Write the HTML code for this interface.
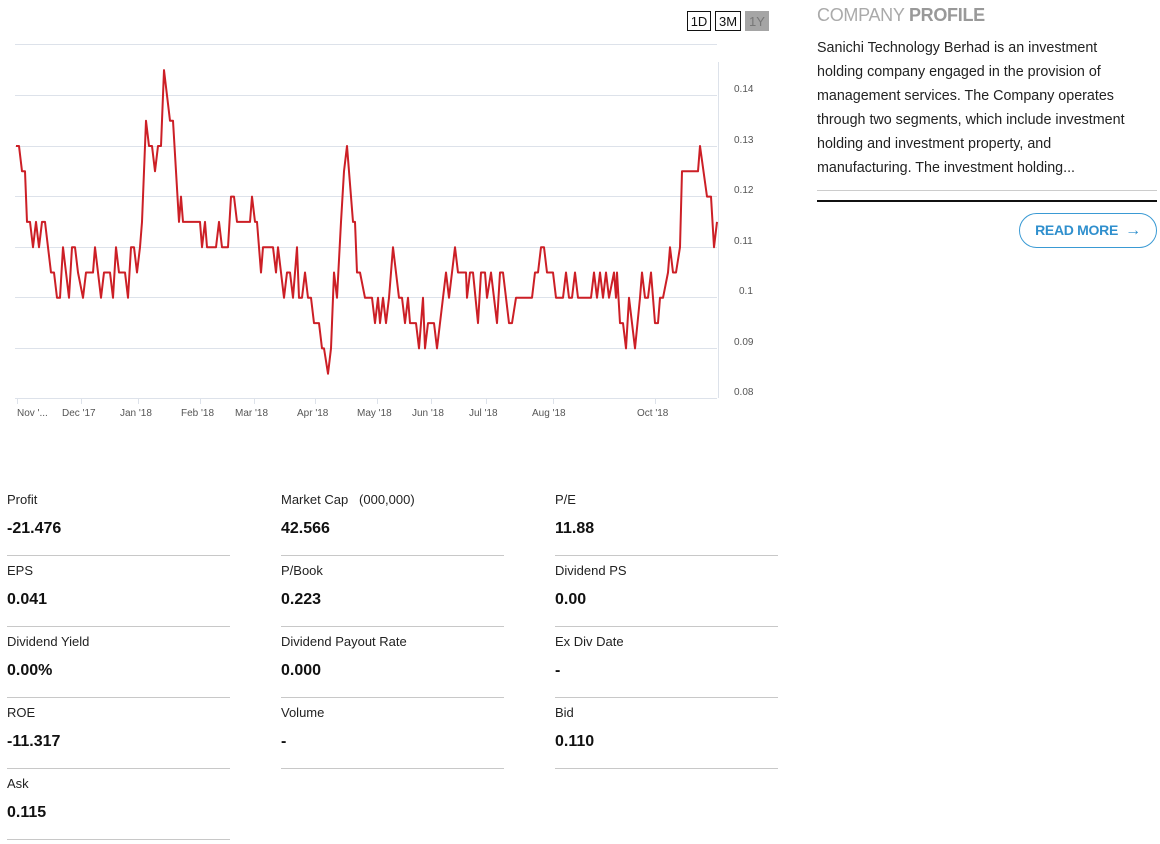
<!DOCTYPE html>
<html><head><meta charset="utf-8"><style>
body{margin:0;width:1160px;height:844px;background:#fff;font-family:"Liberation Sans",sans-serif;position:relative;overflow:hidden;color:#111}
.a{position:absolute;white-space:nowrap}
.btn{position:absolute;top:11px;height:20px;border:1px solid #111;font-size:13px;line-height:20px;text-align:center;box-sizing:border-box}
.lab{font-size:13px;color:#222}
.val{font-size:16px;font-weight:bold;color:#111}
.ln{position:absolute;height:1px;background:#c8c8c8;width:223px}
.yl{font-size:10px;fill:#555}
.xl{font-size:10px;fill:#555}
</style></head><body>
<div class="btn" style="left:687px;width:24px">1D</div>
<div class="btn" style="left:715px;width:26px">3M</div>
<div class="btn" style="left:745px;width:24px;background:#a5a5a5;border-color:#a5a5a5;color:#777">1Y</div>
<svg class="a" style="left:0;top:0" width="800" height="430">
<g stroke="#dde2ea" stroke-width="1">
<line x1="15" x2="717" y1="44.5" y2="44.5"/><line x1="15" x2="717" y1="95.5" y2="95.5"/><line x1="15" x2="717" y1="146.5" y2="146.5"/><line x1="15" x2="717" y1="196.5" y2="196.5"/><line x1="15" x2="717" y1="247.5" y2="247.5"/><line x1="15" x2="717" y1="297.5" y2="297.5"/><line x1="15" x2="717" y1="348.5" y2="348.5"/><line x1="15" x2="717" y1="398.5" y2="398.5"/>
<line x1="718.5" x2="718.5" y1="62" y2="398"/>
<line x1="17.5" x2="17.5" y1="398" y2="404"/><line x1="81.5" x2="81.5" y1="398" y2="404"/><line x1="138.5" x2="138.5" y1="398" y2="404"/><line x1="200.5" x2="200.5" y1="398" y2="404"/><line x1="254.5" x2="254.5" y1="398" y2="404"/><line x1="315.5" x2="315.5" y1="398" y2="404"/><line x1="377.5" x2="377.5" y1="398" y2="404"/><line x1="431.5" x2="431.5" y1="398" y2="404"/><line x1="486.5" x2="486.5" y1="398" y2="404"/><line x1="553.5" x2="553.5" y1="398" y2="404"/><line x1="655.5" x2="655.5" y1="398" y2="404"/>
</g>
<g class="yl"><text x="734" y="92">0.14</text><text x="734" y="143">0.13</text><text x="734" y="193">0.12</text><text x="734" y="244">0.11</text><text x="739" y="294">0.1</text><text x="734" y="345">0.09</text><text x="734" y="395">0.08</text></g>
<g class="xl"><text x="17" y="416">Nov '...</text><text x="62" y="416">Dec '17</text><text x="120" y="416">Jan '18</text><text x="181" y="416">Feb '18</text><text x="235" y="416">Mar '18</text><text x="297" y="416">Apr '18</text><text x="357" y="416">May '18</text><text x="412" y="416">Jun '18</text><text x="469" y="416">Jul '18</text><text x="532" y="416">Aug '18</text><text x="637" y="416">Oct '18</text></g>
<polyline id="pl" fill="none" stroke="#cc1f26" stroke-width="2" stroke-linejoin="round"/>
</svg>
<script>
var d=[[16,.13],[19,.13],[22,.125],[25,.125],[27,.115],[30,.115],[33,.11],[36,.115],[39,.11],[42,.115],[45,.115],[48,.11],[51,.105],[54,.105],[57,.1],[60,.1],[63,.11],[69,.1],[72,.11],[75,.11],[78,.105],[83,.1],[86,.105],[93,.105],[95,.11],[101,.1],[104,.105],[110,.105],[113,.1],[116,.11],[119,.105],[125,.105],[128,.1],[131,.11],[134,.11],[137,.105],[140,.11],[142,.115],[146,.135],[149,.13],[152,.13],[155,.125],[158,.13],[161,.13],[164,.145],[170,.135],[173,.135],[179,.115],[181,.12],[183,.115],[200,.115],[202,.11],[205,.115],[207,.11],[216,.11],[219,.115],[222,.11],[228,.11],[231,.12],[234,.12],[237,.115],[250,.115],[252,.12],[255,.115],[257,.115],[261,.105],[263,.11],[273,.11],[276,.105],[278,.11],[284,.1],[287,.105],[290,.105],[293,.1],[297,.11],[299,.1],[302,.1],[305,.105],[308,.1],[311,.1],[314,.095],[319,.095],[322,.09],[324,.09],[328,.085],[331,.09],[334,.105],[337,.1],[341,.115],[344,.125],[347,.13],[353,.115],[355,.115],[357,.105],[360,.105],[365,.1],[372,.1],[375,.095],[378,.1],[380,.095],[383,.1],[386,.095],[389,.1],[393,.11],[399,.1],[402,.1],[405,.095],[408,.1],[410,.095],[416,.095],[419,.09],[423,.1],[425,.09],[428,.095],[434,.095],[437,.09],[443,.1],[446,.105],[449,.1],[455,.11],[458,.105],[466,.105],[467,.1],[470,.105],[473,.105],[478,.095],[481,.105],[485,.105],[487,.1],[491,.105],[497,.095],[500,.105],[503,.105],[506,.1],[509,.095],[512,.095],[516,.1],[532,.1],[535,.105],[538,.105],[541,.11],[544,.11],[547,.105],[553,.105],[556,.1],[563,.1],[566,.105],[569,.1],[572,.1],[575,.105],[578,.1],[591,.1],[594,.105],[597,.1],[600,.105],[603,.1],[606,.105],[609,.1],[614,.105],[616,.1],[617,.105],[620,.095],[623,.095],[626,.09],[629,.1],[635,.09],[640,.1],[642,.105],[645,.1],[648,.1],[651,.105],[655,.095],[658,.095],[660,.1],[663,.1],[668,.105],[670,.11],[673,.105],[676,.105],[680,.11],[682,.125],[698,.125],[700,.13],[707,.12],[711,.12],[714,.11],[717,.115]];
document.getElementById('pl').setAttribute('points',d.map(function(p){return p[0]+','+(146+(0.13-p[1])*5060).toFixed(1)}).join(' '));
</script>
<div class="a" style="left:817px;top:5px;font-size:18px;color:#aaa;letter-spacing:-0.3px">COMPANY <b style="color:#999">PROFILE</b></div>
<div class="a" style="left:817px;top:36px;font-size:14.3px;line-height:24px;color:#222">Sanichi Technology Berhad is an investment<br>holding company engaged in the provision of<br>management services. The Company operates<br>through two segments, which include investment<br>holding and investment property, and<br>manufacturing. The investment holding...</div>
<div class="a" style="left:817px;top:190px;width:340px;height:1px;background:#ccc"></div>
<div class="a" style="left:817px;top:200px;width:340px;height:2px;background:#111"></div>
<div class="a" style="left:1019px;top:213px;width:138px;height:35px;border:1px solid #3a9ad4;border-radius:18px;box-sizing:border-box;color:#2f8fcd;font-weight:bold;font-size:14px;line-height:33px;text-align:center;letter-spacing:-0.3px">READ MORE &nbsp;<span style="font-size:16px">→</span></div>

<div class="a lab" style="left:7px;top:492px">Profit</div><div class="a val" style="left:7px;top:520px">-21.476</div><div class="ln" style="left:7px;top:555px"></div>
<div class="a lab" style="left:281px;top:492px">Market Cap &nbsp;&nbsp;(000,000)</div><div class="a val" style="left:281px;top:520px">42.566</div><div class="ln" style="left:281px;top:555px"></div>
<div class="a lab" style="left:555px;top:492px">P/E</div><div class="a val" style="left:555px;top:520px">11.88</div><div class="ln" style="left:555px;top:555px"></div>

<div class="a lab" style="left:7px;top:563px">EPS</div><div class="a val" style="left:7px;top:591px">0.041</div><div class="ln" style="left:7px;top:626px"></div>
<div class="a lab" style="left:281px;top:563px">P/Book</div><div class="a val" style="left:281px;top:591px">0.223</div><div class="ln" style="left:281px;top:626px"></div>
<div class="a lab" style="left:555px;top:563px">Dividend PS</div><div class="a val" style="left:555px;top:591px">0.00</div><div class="ln" style="left:555px;top:626px"></div>

<div class="a lab" style="left:7px;top:634px">Dividend Yield</div><div class="a val" style="left:7px;top:662px">0.00%</div><div class="ln" style="left:7px;top:697px"></div>
<div class="a lab" style="left:281px;top:634px">Dividend Payout Rate</div><div class="a val" style="left:281px;top:662px">0.000</div><div class="ln" style="left:281px;top:697px"></div>
<div class="a lab" style="left:555px;top:634px">Ex Div Date</div><div class="a val" style="left:555px;top:662px">-</div><div class="ln" style="left:555px;top:697px"></div>

<div class="a lab" style="left:7px;top:705px">ROE</div><div class="a val" style="left:7px;top:733px">-11.317</div><div class="ln" style="left:7px;top:768px"></div>
<div class="a lab" style="left:281px;top:705px">Volume</div><div class="a val" style="left:281px;top:733px">-</div><div class="ln" style="left:281px;top:768px"></div>
<div class="a lab" style="left:555px;top:705px">Bid</div><div class="a val" style="left:555px;top:733px">0.110</div><div class="ln" style="left:555px;top:768px"></div>

<div class="a lab" style="left:7px;top:776px">Ask</div><div class="a val" style="left:7px;top:804px">0.115</div><div class="ln" style="left:7px;top:839px"></div>
</body></html>
